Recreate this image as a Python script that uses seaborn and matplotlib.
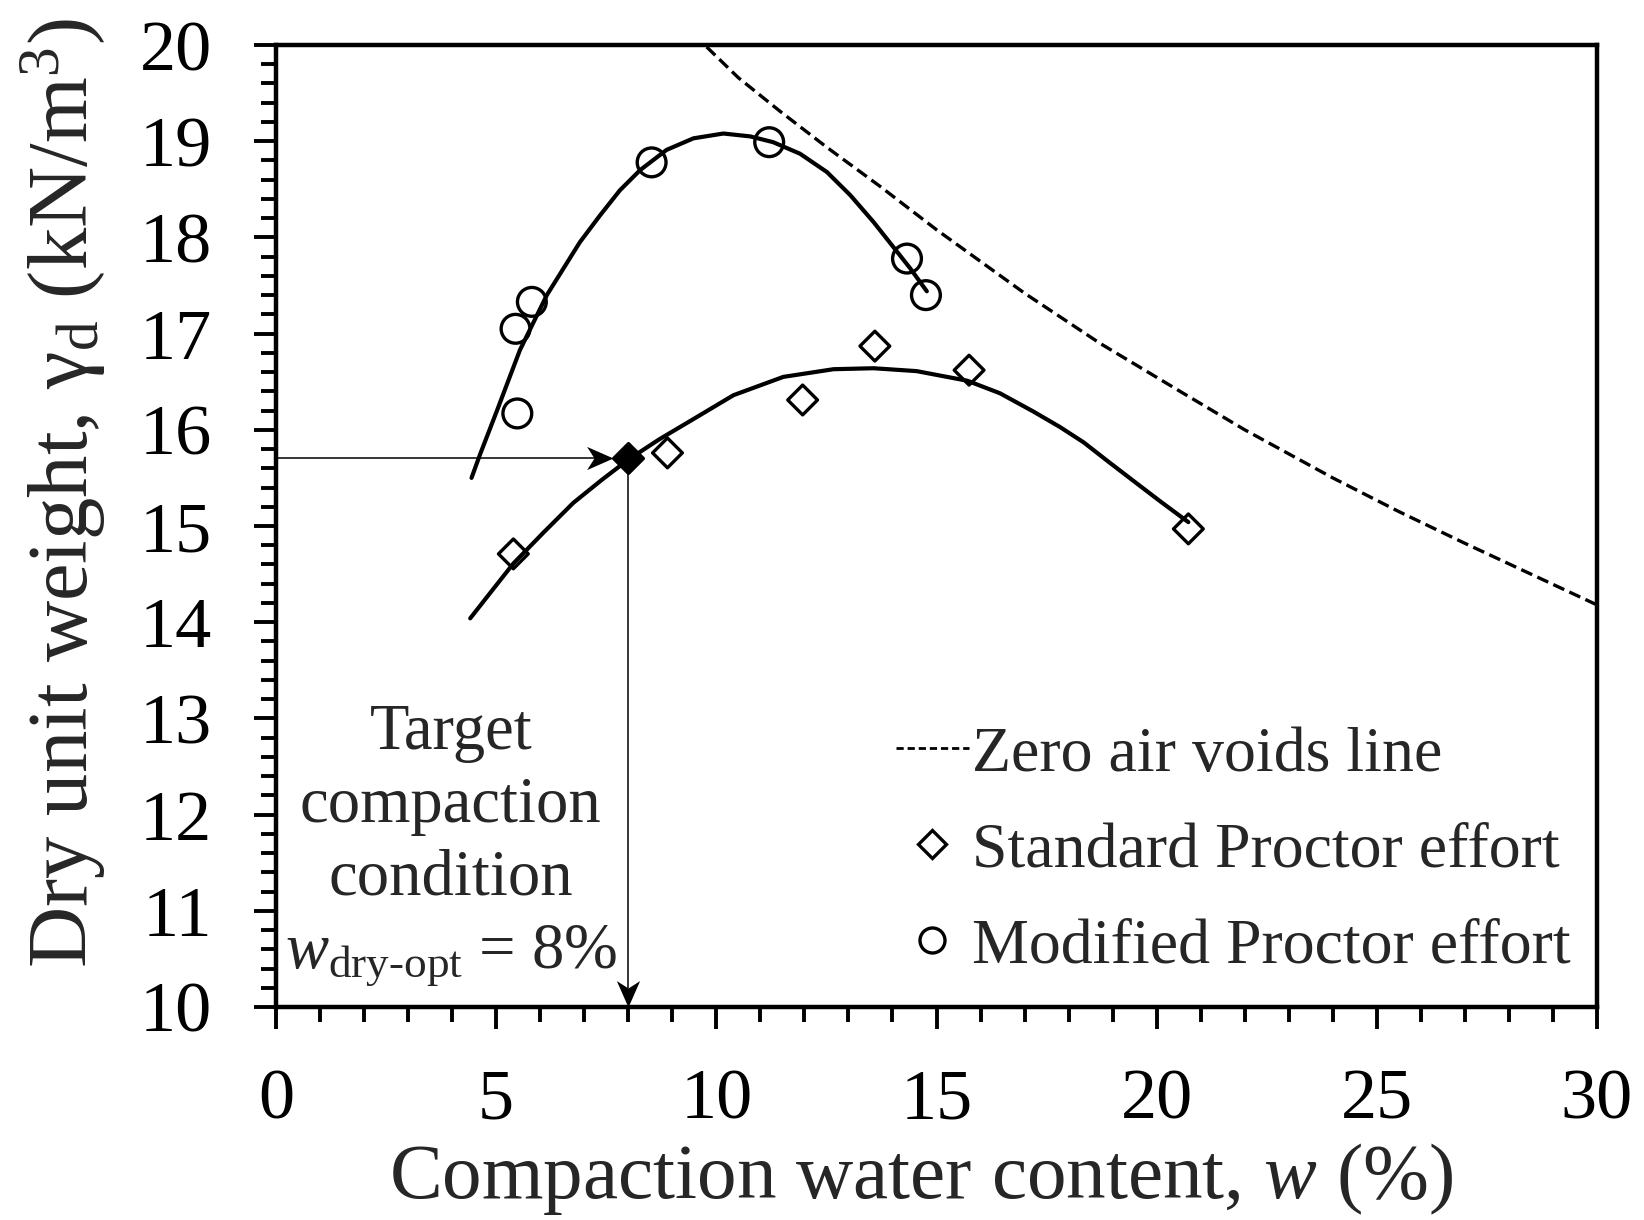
import numpy as np
import pandas as pd
import matplotlib
matplotlib.use("Agg")
import matplotlib.pyplot as plt
from matplotlib.lines import Line2D
from matplotlib.path import Path
from matplotlib.ticker import MultipleLocator
import seaborn as sns

# ---------------- data ----------------
# Modified Proctor test points
mod_w = [5.44, 5.81, 5.48, 8.53, 11.20, 14.33, 14.76]
mod_g = [17.05, 17.33, 16.17, 18.78, 18.99, 17.78, 17.40]
# Modified Proctor fitted curve
mod_curve_w = [4.44, 4.63, 5.01, 5.54, 6.15, 6.90, 7.36, 7.81, 8.27, 8.87, 9.48,
               10.16, 10.77, 11.29, 11.90, 12.51, 13.04, 13.57, 14.02, 14.40, 14.78]
mod_curve_g = [15.50, 15.74, 16.19, 16.83, 17.40, 17.95, 18.23, 18.49, 18.70, 18.91, 19.03,
               19.08, 19.05, 18.99, 18.87, 18.68, 18.44, 18.16, 17.90, 17.68, 17.44]

# Standard Proctor test points
std_w = [5.39, 8.89, 11.96, 13.60, 15.74, 20.72]
std_g = [14.71, 15.76, 16.31, 16.87, 16.62, 14.97]
# Standard Proctor fitted curve
std_curve_w = [4.41, 4.77, 5.39, 6.07, 6.75, 7.40, 8.00, 8.70, 9.40, 10.39, 11.52,
               12.66, 13.57, 14.55, 15.70, 16.44, 17.20, 17.80, 18.34, 18.90, 19.47,
               20.10, 20.72]
std_curve_g = [14.04, 14.25, 14.61, 14.93, 15.24, 15.48, 15.69, 15.90, 16.09, 16.36, 16.55,
               16.63, 16.64, 16.61, 16.51, 16.38, 16.19, 16.03, 15.87, 15.67, 15.47,
               15.25, 15.04]

# Zero air voids line
zav_w = [9.78, 10.50, 11.45, 12.50, 13.72, 15.00, 17.00, 18.71, 20.53, 22.00, 24.00,
         25.50, 27.00, 28.50, 30.00]
zav_g = [19.98, 19.66, 19.31, 18.94, 18.53, 18.08, 17.42, 16.90, 16.40, 16.00, 15.50,
         15.15, 14.82, 14.50, 14.18]

# Target compaction condition
target_w = [8.0]
target_g = [15.71]

x_ticks = [0, 5, 10, 15, 20, 25, 30]
y_ticks = [10, 11, 12, 13, 14, 15, 16, 17, 18, 19, 20]

# ---------------- style ----------------
sns.set_style("ticks")
plt.rcParams["font.family"] = ["Liberation Serif", "DejaVu Serif"]
plt.rcParams["mathtext.fontset"] = "custom"
plt.rcParams["mathtext.rm"] = "Liberation Serif"
plt.rcParams["mathtext.it"] = "Liberation Serif:italic"

fig = plt.figure(figsize=(16.44, 12.2), dpi=100)
ax = fig.add_axes([0.1679, 0.1746, 0.8035, 0.7885])

# zero air voids line
sns.lineplot(x=zav_w, y=zav_g, ax=ax, sort=False, estimator=None, color="black",
             lw=2.4)
ax.lines[-1].set_dashes((3.6, 1.7))

# fitted curves
sns.lineplot(x=mod_curve_w, y=mod_curve_g, ax=ax, sort=False, estimator=None,
             color="black", lw=3.0)
sns.lineplot(x=std_curve_w, y=std_curve_g, ax=ax, sort=False, estimator=None,
             color="black", lw=3.0)
for ln in ax.lines:
    ln.set_solid_joinstyle("round")

# points
sns.scatterplot(x=mod_w, y=mod_g, ax=ax, marker="o", s=430, facecolor="none",
                edgecolor="black", linewidth=2.4, zorder=4)
sns.scatterplot(x=std_w, y=std_g, ax=ax, marker="D", s=230, facecolor="none",
                edgecolor="black", linewidth=2.4, zorder=4)
sns.scatterplot(x=target_w, y=target_g, ax=ax, marker="D", s=230, facecolor="black",
                edgecolor="black", linewidth=2.4, zorder=5)

# arrows to the target condition (thin lines + stealth heads)
head_right = Path([(0, 0), (-1, 0.44), (-0.72, 0), (-1, -0.44), (0, 0)],
                  [Path.MOVETO, Path.LINETO, Path.LINETO, Path.LINETO, Path.CLOSEPOLY])
head_down = Path([(0, 0), (-0.44, 1), (0, 0.72), (0.44, 1), (0, 0)],
                 [Path.MOVETO, Path.LINETO, Path.LINETO, Path.LINETO, Path.CLOSEPOLY])
tip_x = target_w[0] - 0.34
ax.plot([0, tip_x - 0.2], [target_g[0]] * 2, color="black", lw=1.1, zorder=3)
ax.plot([tip_x], [target_g[0]], marker=head_right, markersize=38, color="black",
        markeredgewidth=0, zorder=3, clip_on=False)
ax.plot([target_w[0]] * 2, [target_g[0] - 0.1, 10.2], color="black", lw=1.1, zorder=3)
ax.plot([target_w[0]], [10.0], marker=head_down, markersize=38, color="black",
        markeredgewidth=0, zorder=6, clip_on=False)

ax.text(3.97, 13.16, "Target\ncompaction\ncondition\n$\\mathit{w}_{\\mathrm{dry\\text{-}opt}}$ = 8%",
        ha="center", va="top", fontsize=46.5, linespacing=1.30)

# axes
ax.set_xlim(0, 30)
ax.set_ylim(10, 20)
ax.set_xticks(x_ticks)
ax.set_yticks(y_ticks)
ax.set_xticklabels([str(v) for v in x_ticks])
ax.set_yticklabels([str(v) for v in y_ticks])
ax.xaxis.set_minor_locator(MultipleLocator(1))
ax.yaxis.set_minor_locator(MultipleLocator(0.2))
ax.tick_params(which="major", direction="out", length=16, width=2.8, labelsize=52,
               color="black", labelcolor="black")
ax.tick_params(axis="y", which="major", pad=30)
ax.tick_params(axis="x", which="major", pad=28)
ax.tick_params(which="minor", direction="out", length=11, width=2.8, color="black")
for sp in ax.spines.values():
    sp.set_linewidth(3.2)
    sp.set_color("black")
    sp.set_visible(True)

ax.set_xlabel("Compaction water content, $\\mathit{w}$ (%)", fontsize=57)
ax.xaxis.set_label_coords(0.488, -0.199, transform=ax.transAxes)
ax.xaxis.label.set_va("baseline")
ax.set_ylabel("Dry unit weight, γ$_{\\mathrm{d}}$ (kN/m$^{3}$)", fontsize=61)
ax.yaxis.set_label_coords(-0.128, 0.534, transform=ax.transAxes)

# legend
handles = [
    Line2D([], [], color="black", lw=2.0, dashes=(2.6, 1.4)),
    Line2D([], [], color="black", marker="D", ls="none", markersize=14,
           markerfacecolor="none", markeredgewidth=2.4),
    Line2D([], [], color="black", marker="o", ls="none", markersize=18,
           markerfacecolor="none", markeredgewidth=2.4),
]
labels = ["Zero air voids line", "Standard Proctor effort", "Modified Proctor effort"]
ax.legend(handles, labels, loc="upper left", bbox_to_anchor=(0.469, 0.292),
          frameon=False, fontsize=46, handlelength=1.15, handletextpad=0.05,
          labelspacing=0.58, borderpad=0, borderaxespad=0)

fig.savefig("out.png", dpi=100, facecolor="white")
